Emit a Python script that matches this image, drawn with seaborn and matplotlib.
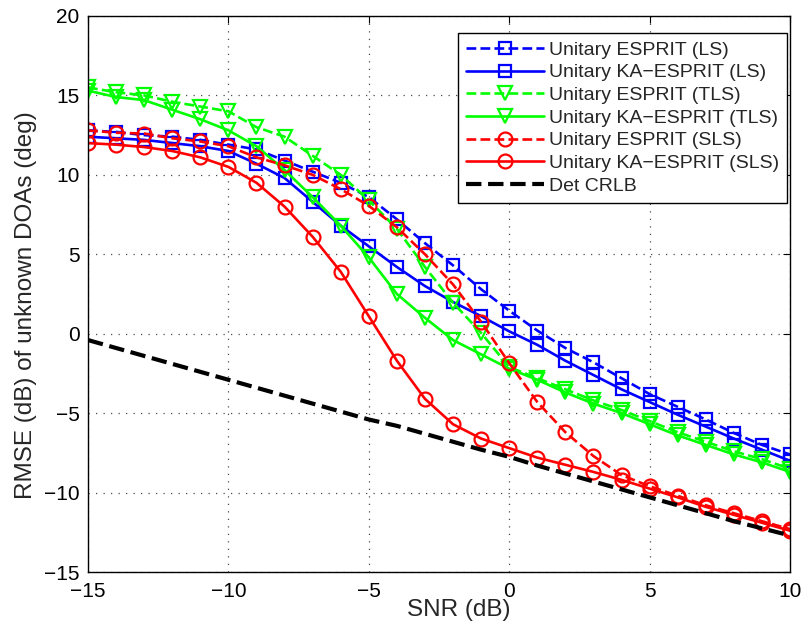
import numpy as np
import pandas as pd
import matplotlib
matplotlib.use("Agg")
import matplotlib.pyplot as plt
import seaborn as sns

snr = list(range(-15, 11))

esprit_ls = [12.8, 12.7, 12.5, 12.4, 12.2, 11.9, 11.6, 10.9, 10.2, 9.5, 8.6, 7.2, 5.7, 4.3, 2.8, 1.45,
             0.2, -0.9, -1.8, -2.8, -3.8, -4.6, -5.4, -6.25, -7.0, -7.6]
ka_ls = [12.4, 12.3, 12.2, 12.0, 11.8, 11.5, 10.7, 9.8, 8.3, 6.8, 5.5, 4.2, 3.0, 2.0, 1.1, 0.15,
         -0.7, -1.7, -2.6, -3.5, -4.3, -5.1, -5.85, -6.6, -7.3, -8.0]
esprit_tls = [15.5, 15.2, 15.0, 14.6, 14.3, 14.0, 13.0, 12.4, 11.2, 10.0, 8.4, 6.6, 4.2, 1.95, 0.05, -2.1,
              -2.8, -3.5, -4.2, -4.8, -5.5, -6.2, -6.8, -7.4, -7.9, -8.5]
ka_tls = [15.3, 14.9, 14.7, 14.1, 13.5, 12.8, 11.8, 10.3, 8.6, 6.8, 4.8, 2.5, 1.0, -0.4, -1.3, -2.2,
          -2.9, -3.7, -4.4, -5.0, -5.7, -6.4, -7.0, -7.6, -8.1, -8.7]
esprit_sls = [12.8, 12.65, 12.6, 12.3, 12.1, 11.8, 11.1, 10.6, 10.0, 9.1, 8.05, 6.7, 5.0, 3.1, 0.75, -1.85,
              -4.3, -6.2, -7.7, -8.9, -9.6, -10.2, -10.8, -11.3, -11.8, -12.3]
ka_sls = [12.0, 11.9, 11.75, 11.5, 11.1, 10.5, 9.5, 8.0, 6.1, 3.9, 1.1, -1.7, -4.1, -5.7, -6.6, -7.2,
          -7.8, -8.25, -8.7, -9.2, -9.75, -10.3, -10.9, -11.4, -11.9, -12.4]
crlb = [-0.4, -0.9, -1.4, -1.9, -2.4, -2.9, -3.4, -3.9, -4.4, -4.9, -5.4, -5.8, -6.3, -6.8, -7.3, -7.75,
        -8.3, -8.8, -9.3, -9.8, -10.3, -10.8, -11.3, -11.8, -12.25, -12.7]

labels = ["Unitary ESPRIT (LS)", "Unitary KA\u2212ESPRIT (LS)",
          "Unitary ESPRIT (TLS)", "Unitary KA\u2212ESPRIT (TLS)",
          "Unitary ESPRIT (SLS)", "Unitary KA\u2212ESPRIT (SLS)", "Det CRLB"]
series = [esprit_ls, ka_ls, esprit_tls, ka_tls, esprit_sls, ka_sls, crlb]
colors = ["#0000ff", "#0000ff", "#00ff00", "#00ff00", "#ff0000", "#ff0000", "#000000"]
styles = ["--", "-", "--", "-", "--", "-", "--"]
markers = ["s", "s", "v", "v", "o", "o", None]

sns.set_style("white")
plt.rcParams["font.family"] = ["Liberation Sans", "DejaVu Sans"]

fig = plt.figure(figsize=(8.03, 6.29), dpi=100)
ax = fig.add_axes([0.1096, 0.0906, 0.8742, 0.884])

for lab, ys, c, ls, m in zip(labels, series, colors, styles, markers):
    kw = dict(linewidth=1.9, dashes=(5, 3)) if ls == "--" else dict(linewidth=1.9)
    if m is None:
        kw = dict(linewidth=3.0, dashes=(3.2, 2.2))
    else:
        kw.update(marker=m, markersize=10 if m != "s" else 8.7, markerfacecolor="none",
                  markeredgecolor=c, markeredgewidth=1.6)
    sns.lineplot(x=snr, y=ys, ax=ax, color=c, label=lab, linestyle=ls, **kw)

ax.set_xlim(-15, 10)
ax.set_ylim(-15, 20)
ax.set_xticks([-15, -10, -5, 0, 5, 10])
ax.set_yticks([-15, -10, -5, 0, 5, 10, 15, 20])
ax.grid(True, color="black", linestyle=(0, (1, 5)), linewidth=0.9, alpha=0.7)
ax.tick_params(direction="in", length=5, width=0.8, top=True, right=True,
               labelsize=15, colors="black")
ax.tick_params(axis="x", pad=7)
ax.tick_params(axis="y", pad=6)
for s in ax.spines.values():
    s.set_color("black")
    s.set_linewidth(1.0)
ax.set_xlabel("SNR (dB)", fontsize=17.5)
ax.set_ylabel("RMSE (dB) of unknown DOAs (deg)", fontsize=17.5)
ax.xaxis.set_label_coords(0.528, -0.049)
ax.yaxis.set_label_coords(-0.072, 0.48)

leg = ax.legend(loc="upper right", bbox_to_anchor=(0.9957, 0.9694), borderaxespad=0,
                fontsize=14, handlelength=4.0, frameon=True,
                fancybox=False, edgecolor="black", framealpha=1, borderpad=0.42,
                labelspacing=0.26, handletextpad=0.25)
leg.get_frame().set_linewidth(1.0)

fig.savefig("out.png", dpi=100)
